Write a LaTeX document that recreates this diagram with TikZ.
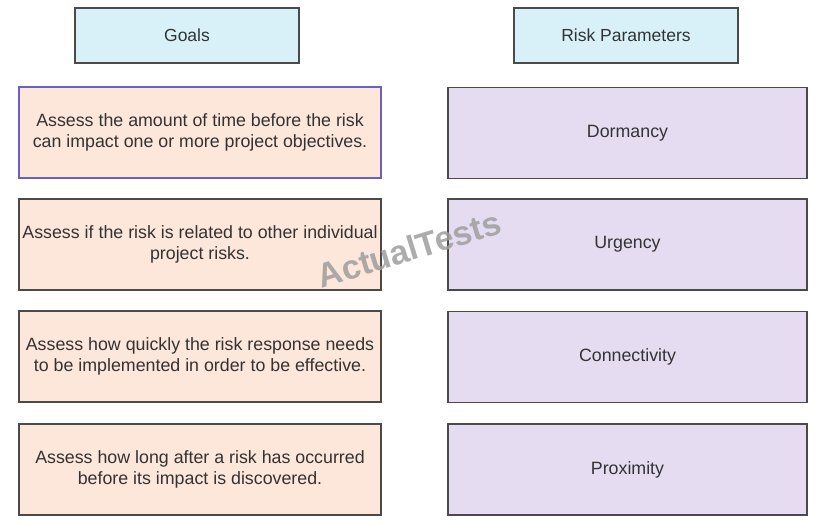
\documentclass[tikz,border=0pt]{standalone}
\usepackage{fontspec}
\setmainfont{Liberation Sans}
\usetikzlibrary{positioning}
\definecolor{headfill}{HTML}{D8F1F9}
\definecolor{goalfill}{HTML}{FDE6DA}
\definecolor{paramfill}{HTML}{E6DCF1}
\definecolor{edgegray}{HTML}{4A4A4A}
\definecolor{edgeblue}{HTML}{6A62C0}
\definecolor{textgray}{HTML}{333333}
\definecolor{markgray}{HTML}{9E9E9E}

\begin{document}
\begin{tikzpicture}[x=1pt,y=-1pt]
		\tikzset{head/.style = {shape=rectangle, draw=edgegray, line width=1.1pt, fill=headfill, minimum width=224pt, minimum height=55pt, text=textgray, font=\fontsize{17.5}{21}\selectfont},
			goal/.style = {shape=rectangle, draw=edgegray, line width=1.1pt, fill=goalfill, minimum width=362pt, minimum height=91pt, align=center, inner sep=0pt, text=textgray, font=\fontsize{17.8}{21}\selectfont},
			param/.style = {goal, fill=paramfill, minimum width=359pt}}
		\useasboundingbox (0,0) rectangle (829,526);
		% column headers
		\node[head] (GOALS) at (187,35.5) {Goals};
		\node[head] (PARAMS) at (626,35.5) {Risk Parameters};
		% goals
		\node[goal, draw=edgeblue] (TIME) at (200,132.5)
		{Assess the amount of time before the risk\\can impact one or more project objectives.};
		\node[goal] (RELATED) at (200,244.5)
		{Assess if the risk is related to other individual\\project risks.};
		\node[goal] (QUICK) at (200,356.5)
		{Assess how quickly the risk response needs\\to be implemented in order to be effective.};
		\node[goal] (LONG) at (200,469.5)
		{Assess how long after a risk has occurred\\before its impact is discovered.};
		% risk parameters
		\node[param] (DORMANCY) at (627.5,133) {Dormancy};
		\node[param] (URGENCY) at (627.5,244.5) {Urgency};
		\node[param] (CONNECT) at (627.5,357) {Connectivity};
		\node[param] (PROXIMITY) at (627.5,469.5) {Proximity};
		% watermark
		\node[rotate=17, text=markgray, opacity=0.85, font=\bfseries\fontsize{34}{34}\selectfont] (MARK) at (409,249) {ActualTests};
\end{tikzpicture}
\end{document}
